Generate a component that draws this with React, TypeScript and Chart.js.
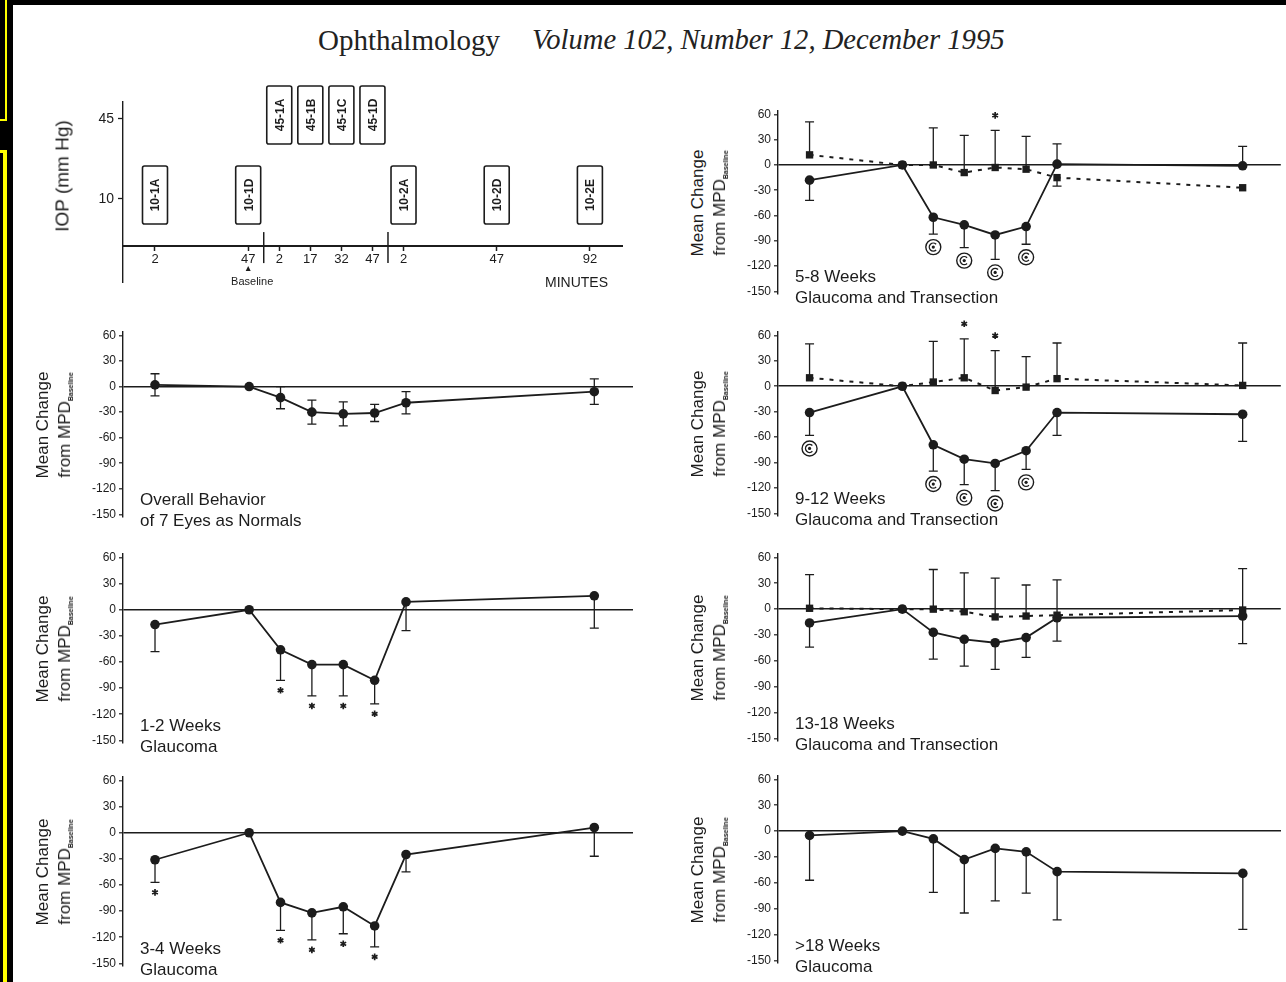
import React, { useEffect, useRef } from "react";
import { Chart, registerables } from "chart.js";

Chart.register(...registerables);

const INK = "#1c1c1c";
const SANS = "'Liberation Sans', Arial, Helvetica, sans-serif";
const SERIF = "'Liberation Serif', 'Times New Roman', serif";

// ---- time axis: each sample on one continuous clock (minutes) ----
const sampleTimes = [2, 47, 62, 77, 92, 107, 122, 212];

// ---- protocol schematic (top-left) ----
const scheduleTimes = [2, 47, 62, 77, 92, 107, 122, 167, 212];
const scheduleMinuteLabels = ["2", "47", "2", "17", "32", "47", "2", "47", "92"];
const scheduleBoxLabels = ["10-1A", "10-1D", "45-1A", "45-1B", "45-1C", "45-1D", "10-2A", "10-2D", "10-2E"];
const scheduleIOP = [10, 10, 45, 45, 45, 45, 10, 10, 10];
const scheduleDividers = [54.5, 114.5];
const iopTicks = [45, 10];
const iopAxisLevel = -10.6;
const baselineTime = 47;

const changeTicks = [60, 30, 0, -30, -60, -90, -120, -150];
const noBars = [0, 0, 0, 0, 0, 0, 0, 0];

// Overall Behavior of 7 Eyes as Normals
const normalsMean = [2, 0, -13, -30, -32, -31, -19, -6];
const normalsSD = [13, 0, 13, 14, 14, 10, 13, 15];

// 1-2 Weeks Glaucoma
const wk1to2Mean = [-17, 0, -46, -63, -63, -81, 9, 16];
const wk1to2SD = [31, 0, 35, 36, 36, 27, 33, 37];
const wk1to2Stars = [2, 3, 4, 5];

// 3-4 Weeks Glaucoma
const wk3to4Mean = [-31, 0, -80, -92, -85, -107, -25, 6];
const wk3to4SD = [26, 0, 32, 31, 31, 24, 20, 33];
const wk3to4Stars = [0, 2, 3, 4, 5];

// 5-8 Weeks Glaucoma and Transection
const wk5to8Mean = [-18, 0, -62, -71, -83, -73, 1, -1];
const wk5to8SDDown = [24, 0, 20, 27, 29, 21, 0, 0];
const wk5to8SDUp = [0, 0, 0, 0, 0, 0, 24, 23];
const wk5to8Rings = [2, 3, 4, 5];
const wk5to8FellowMean = [12, 0, 0, -9, -3, -5, -15, -27];
const wk5to8FellowSDUp = [39, 0, 44, 44, 44, 39, 0, 0];
const wk5to8FellowSDDown = [0, 0, 0, 0, 0, 0, 10, 0];
const wk5to8FellowStars = [4];

// 9-12 Weeks Glaucoma and Transection
const wk9to12Mean = [-31, 0, -69, -86, -91, -76, -31, -33];
const wk9to12SD = [27, 0, 31, 30, 32, 22, 27, 32];
const wk9to12Rings = [0, 2, 3, 4, 5];
const wk9to12FellowMean = [10, 0, 5, 10, -5, -1, 9, 1];
const wk9to12FellowSD = [40, 0, 48, 46, 47, 36, 42, 50];
const wk9to12FellowStars = [3, 4];

// 13-18 Weeks Glaucoma and Transection
const wk13to18Mean = [-16, 0, -27, -35, -39, -33, -10, -8];
const wk13to18SD = [28, 0, 31, 31, 31, 23, 27, 32];
const wk13to18FellowMean = [1, 0, 0, -3, -9, -8, -7, -1];
const wk13to18FellowSD = [39, 0, 46, 45, 45, 36, 41, 48];

// >18 Weeks Glaucoma
const wkOver18Mean = [-5, 0, -9, -33, -20, -24, -47, -49];
const wkOver18SD = [52, 0, 62, 62, 61, 48, 56, 65];

type Series = {
  mean: number[];
  up: number[];
  down: number[];
  dashed?: boolean;
  starsBelow?: number[];
  starsAbove?: number[];
  ringsBelow?: number[];
};

function drawStar(ctx: any, cx: number, cy: number) {
  const r = 3.3;
  ctx.beginPath();
  for (let k = 0; k < 3; k++) {
    const a = Math.PI / 2 + (k * Math.PI) / 3;
    ctx.moveTo(cx + r * Math.cos(a), cy + r * Math.sin(a));
    ctx.lineTo(cx - r * Math.cos(a), cy - r * Math.sin(a));
  }
  ctx.lineWidth = 1.7;
  ctx.stroke();
}

function drawRing(ctx: any, cx: number, cy: number) {
  ctx.lineWidth = 1.4;
  ctx.beginPath();
  ctx.arc(cx, cy, 7.5, 0, Math.PI * 2);
  ctx.stroke();
  ctx.beginPath();
  ctx.arc(cx, cy, 4, Math.PI * 0.25, Math.PI * 1.75);
  ctx.stroke();
  ctx.beginPath();
  ctx.arc(cx, cy, 1.6, 0, Math.PI * 2);
  ctx.fill();
}

function makeMarksPlugin(series: Series[]) {
  return {
    id: "errorMarks",
    beforeDatasetsDraw(chart: any) {
      const { ctx } = chart;
      const x = chart.scales.x;
      const y = chart.scales.y;
      ctx.save();
      ctx.strokeStyle = INK;
      ctx.lineWidth = 1.3;
      ctx.setLineDash([]);
      for (const s of series) {
        sampleTimes.forEach((t, i) => {
          const px = x.getPixelForValue(t);
          const py = y.getPixelForValue(s.mean[i]);
          const ends: number[] = [];
          if (s.up[i] > 0) ends.push(s.mean[i] + s.up[i]);
          if (s.down[i] > 0) ends.push(s.mean[i] - s.down[i]);
          for (const v of ends) {
            const pe = y.getPixelForValue(v);
            ctx.beginPath();
            ctx.moveTo(px, py);
            ctx.lineTo(px, pe);
            ctx.moveTo(px - 4.5, pe);
            ctx.lineTo(px + 4.5, pe);
            ctx.stroke();
          }
        });
      }
      ctx.restore();
    },
    afterDatasetsDraw(chart: any) {
      const { ctx } = chart;
      const x = chart.scales.x;
      const y = chart.scales.y;
      ctx.save();
      ctx.strokeStyle = INK;
      ctx.fillStyle = INK;
      ctx.setLineDash([]);
      for (const s of series) {
        (s.starsBelow || []).forEach((i) => {
          const pe = y.getPixelForValue(s.mean[i] - s.down[i]);
          drawStar(ctx, x.getPixelForValue(sampleTimes[i]), pe + 10);
        });
        (s.starsAbove || []).forEach((i) => {
          const pe = y.getPixelForValue(s.mean[i] + s.up[i]);
          drawStar(ctx, x.getPixelForValue(sampleTimes[i]), pe - 15);
        });
        (s.ringsBelow || []).forEach((i) => {
          const pe = y.getPixelForValue(s.mean[i] - s.down[i]);
          drawRing(ctx, x.getPixelForValue(sampleTimes[i]), pe + 13);
        });
      }
      ctx.restore();
    },
  };
}

type PanelProps = {
  axisX: number;
  plotRight: number;
  y60: number;
  y150: number;
  series: Series[];
  caption: [string, string];
};

function ChangePanel({ axisX, plotRight, y60, y150, series, caption }: PanelProps) {
  const ref = useRef<HTMLCanvasElement>(null);
  const yMax = 64;
  const yMin = -153;
  const ppu = (y150 - y60) / 210;
  const areaTop = y60 - (yMax - 60) * ppu;
  const areaBottom = y150 + (-150 - yMin) * ppu;
  const AXW = 60;
  const PADT = 34;
  const PADB = 34;
  const PADR = 5;
  const left = Math.round(axisX - AXW);
  const top = Math.round(areaTop - PADT);
  const width = Math.round(AXW + (plotRight - axisX) + PADR);
  const height = Math.round(areaBottom - areaTop) + PADT + PADB;

  useEffect(() => {
    const chart = new Chart(ref.current as HTMLCanvasElement, {
      type: "line",
      data: {
        datasets: series.map((s) => ({
          data: sampleTimes.map((t, i) => ({ x: t, y: s.mean[i] })),
          borderColor: INK,
          borderWidth: s.dashed ? 2 : 1.8,
          borderDash: s.dashed ? [4, 6] : [],
          pointStyle: s.dashed ? "rect" : "circle",
          pointRadius: s.dashed ? 5.2 : 4.8,
          pointBackgroundColor: INK,
          pointBorderColor: INK,
          pointBorderWidth: 0,
          tension: 0,
          fill: false,
          clip: false,
        })) as any,
      },
      options: {
        animation: false,
        responsive: false,
        maintainAspectRatio: false,
        layout: { padding: { left: 0, top: PADT, right: PADR, bottom: PADB } },
        plugins: { legend: { display: false }, tooltip: { enabled: false } },
        scales: {
          x: { type: "linear", min: -13.3, max: 230.5, display: false },
          y: {
            type: "linear",
            min: yMin,
            max: yMax,
            afterBuildTicks: (s: any) => {
              s.ticks = changeTicks.map((v) => ({ value: v }));
            },
            afterFit: (s: any) => {
              s.width = AXW;
            },
            ticks: { color: INK, font: { family: SANS, size: 12 }, padding: 3 },
            grid: {
              color: (c: any) => (c.tick && c.tick.value === 0 ? INK : "rgba(0,0,0,0)"),
              lineWidth: 1.6,
              tickColor: INK,
              tickWidth: 1.2,
              tickLength: 4,
              drawTicks: true,
            },
            border: { display: true, color: INK, width: 1.4 },
          },
        },
      } as any,
      plugins: [makeMarksPlugin(series)],
    });
    return () => chart.destroy();
  }, []);

  const midY = (y60 + y150) / 2;
  const titleStyle: any = {
    position: "absolute",
    top: midY,
    transform: "translate(-50%,-50%) rotate(-90deg)",
    whiteSpace: "nowrap",
    fontFamily: SANS,
    fontSize: 17,
    color: INK,
    lineHeight: 1,
  };
  const capStyle: any = {
    position: "absolute",
    left: axisX + 17,
    transform: "translateY(-50%)",
    whiteSpace: "nowrap",
    fontFamily: SANS,
    fontSize: 17,
    color: INK,
    lineHeight: 1,
  };
  return (
    <>
      <canvas
        ref={ref}
        width={width}
        height={height}
        style={{ position: "absolute", left, top, width, height }}
      />
      <div style={{ ...titleStyle, left: axisX - 81 }}>Mean Change</div>
      <div style={{ ...titleStyle, left: axisX - 58 }}>
        from MPD<span style={{ fontSize: 7, fontWeight: "bold", verticalAlign: "-3px" }}>Baseline</span>
      </div>
      <div style={{ ...capStyle, top: y150 - 15 }}>{caption[0]}</div>
      <div style={{ ...capStyle, top: y150 + 6 }}>{caption[1]}</div>
    </>
  );
}

const schedulePlugin = {
  id: "schedule",
  afterDraw(chart: any) {
    const { ctx } = chart;
    const x = chart.scales.x;
    const y = chart.scales.y;
    const axisPx = y.getPixelForValue(iopAxisLevel);
    ctx.save();
    ctx.strokeStyle = INK;
    ctx.fillStyle = INK;
    ctx.lineWidth = 1.5;
    for (const t of scheduleDividers) {
      const px = x.getPixelForValue(t);
      ctx.beginPath();
      ctx.moveTo(px, axisPx - 14);
      ctx.lineTo(px, axisPx + 17);
      ctx.stroke();
    }
    scheduleTimes.forEach((t, i) => {
      const cx = x.getPixelForValue(t);
      const cy = y.getPixelForValue(scheduleIOP[i]) - 4;
      const w = 25;
      const h = 58;
      ctx.lineWidth = 1.6;
      ctx.beginPath();
      if (ctx.roundRect) ctx.roundRect(cx - w / 2, cy - h / 2, w, h, 2);
      else ctx.rect(cx - w / 2, cy - h / 2, w, h);
      ctx.stroke();
      ctx.save();
      ctx.translate(cx, cy);
      ctx.rotate(-Math.PI / 2);
      ctx.font = `bold 12px ${SANS}`;
      ctx.textAlign = "center";
      ctx.textBaseline = "middle";
      ctx.fillText(scheduleBoxLabels[i], 0, 1);
      ctx.restore();
    });
    const bx = x.getPixelForValue(baselineTime);
    ctx.beginPath();
    ctx.moveTo(bx, axisPx + 20);
    ctx.lineTo(bx - 2.5, axisPx + 25);
    ctx.lineTo(bx + 2.5, axisPx + 25);
    ctx.closePath();
    ctx.fill();
    ctx.font = `11px ${SANS}`;
    ctx.textAlign = "center";
    ctx.textBaseline = "middle";
    ctx.fillText("Baseline", bx + 4, axisPx + 36);
    ctx.restore();
  },
};

function SchedulePanel() {
  const ref = useRef<HTMLCanvasElement>(null);
  const AXW = 60;
  const areaLeft = 123;
  const areaRight = 622;
  const areaTop = 102;
  const areaBottom = 282;
  const PADT = 20;
  const PADB = 40;
  const PADR = 20;
  const left = areaLeft - AXW;
  const top = areaTop - PADT;
  const width = AXW + (areaRight - areaLeft) + PADR;
  const height = areaBottom - areaTop + PADT + PADB;
  useEffect(() => {
    const chart = new Chart(ref.current as HTMLCanvasElement, {
      type: "scatter",
      data: { datasets: [] },
      options: {
        animation: false,
        responsive: false,
        maintainAspectRatio: false,
        layout: { padding: { left: 0, top: PADT, right: PADR, bottom: PADB } },
        plugins: { legend: { display: false }, tooltip: { enabled: false } },
        scales: {
          x: {
            type: "linear",
            min: -13.45,
            max: 227.5,
            position: { y: iopAxisLevel },
            afterBuildTicks: (s: any) => {
              s.ticks = scheduleTimes.map((v) => ({ value: v }));
            },
            ticks: {
              autoSkip: false,
              maxRotation: 0,
              color: INK,
              font: { family: SANS, size: 13 },
              padding: 2,
              callback: (v: any) => scheduleMinuteLabels[scheduleTimes.indexOf(v)],
            },
            grid: { drawOnChartArea: false, tickLength: 4, tickColor: INK, tickWidth: 1.5 },
            border: { display: true, color: INK, width: 2 },
          },
          y: {
            type: "linear",
            min: -26.3,
            max: 52.4,
            afterBuildTicks: (s: any) => {
              s.ticks = iopTicks.map((v) => ({ value: v }));
            },
            afterFit: (s: any) => {
              s.width = AXW;
            },
            ticks: { color: INK, font: { family: SANS, size: 14 }, padding: 4 },
            grid: { drawOnChartArea: false, tickLength: 5, tickColor: INK, tickWidth: 1.3 },
            border: { display: true, color: INK, width: 1.4 },
          },
        },
      } as any,
      plugins: [schedulePlugin],
    });
    return () => chart.destroy();
  }, []);
  return (
    <>
      <canvas ref={ref} width={width} height={height} style={{ position: "absolute", left, top, width, height }} />
      <div
        style={{
          position: "absolute",
          left: 62,
          top: 176,
          transform: "translate(-50%,-50%) rotate(-90deg)",
          whiteSpace: "nowrap",
          fontFamily: SANS,
          fontSize: 19,
          color: INK,
          lineHeight: 1,
        }}
      >
        IOP (mm Hg)
      </div>
      <div
        style={{
          position: "absolute",
          left: 545,
          top: 282,
          transform: "translateY(-50%)",
          whiteSpace: "nowrap",
          fontFamily: SANS,
          fontSize: 14,
          color: INK,
          lineHeight: 1,
        }}
      >
        MINUTES
      </div>
    </>
  );
}

export default function App() {
  const L = { axisX: 123, plotRight: 633 };
  const R = { axisX: 778, plotRight: 1281 };
  return (
    <div style={{ position: "fixed", left: 0, top: 0, width: 1286, height: 982, background: "#000", overflow: "hidden" }}>
      <div style={{ position: "absolute", left: 13, top: 5, right: 0, bottom: 0, background: "#fff" }} />
      <div style={{ position: "absolute", left: 5, top: 0, width: 2, height: 121, background: "#ffff00" }} />
      <div style={{ position: "absolute", left: 0, top: 119, width: 7, height: 2, background: "#ffff00" }} />
      <div style={{ position: "absolute", left: 0, top: 150, width: 7, height: 3, background: "#ffff00" }} />
      <div style={{ position: "absolute", left: 3, top: 150, width: 4, height: 832, background: "#ffff00" }} />

      <div style={{ position: "absolute", left: 318, top: 40, transform: "translateY(-50%)", fontFamily: SERIF, fontSize: 29, color: "#222", whiteSpace: "nowrap", lineHeight: 1 }}>
        Ophthalmology
      </div>
      <div style={{ position: "absolute", left: 532, top: 40, transform: "translateY(-50%)", fontFamily: SERIF, fontStyle: "italic", fontSize: 28.6, color: "#222", whiteSpace: "nowrap", lineHeight: 1 }}>
        Volume 102, Number 12, December 1995
      </div>

      <SchedulePanel />

      <ChangePanel {...L} y60={335} y150={514}
        series={[{ mean: normalsMean, up: normalsSD, down: normalsSD }]}
        caption={["Overall Behavior", "of 7 Eyes as Normals"]} />
      <ChangePanel {...L} y60={557} y150={740}
        series={[{ mean: wk1to2Mean, up: noBars, down: wk1to2SD, starsBelow: wk1to2Stars }]}
        caption={["1-2 Weeks", "Glaucoma"]} />
      <ChangePanel {...L} y60={780} y150={963}
        series={[{ mean: wk3to4Mean, up: noBars, down: wk3to4SD, starsBelow: wk3to4Stars }]}
        caption={["3-4 Weeks", "Glaucoma"]} />

      <ChangePanel {...R} y60={114} y150={291}
        series={[
          { mean: wk5to8FellowMean, up: wk5to8FellowSDUp, down: wk5to8FellowSDDown, dashed: true, starsAbove: wk5to8FellowStars },
          { mean: wk5to8Mean, up: wk5to8SDUp, down: wk5to8SDDown, ringsBelow: wk5to8Rings },
        ]}
        caption={["5-8 Weeks", "Glaucoma and Transection"]} />
      <ChangePanel {...R} y60={335} y150={513}
        series={[
          { mean: wk9to12FellowMean, up: wk9to12FellowSD, down: noBars, dashed: true, starsAbove: wk9to12FellowStars },
          { mean: wk9to12Mean, up: noBars, down: wk9to12SD, ringsBelow: wk9to12Rings },
        ]}
        caption={["9-12 Weeks", "Glaucoma and Transection"]} />
      <ChangePanel {...R} y60={557} y150={738}
        series={[
          { mean: wk13to18FellowMean, up: wk13to18FellowSD, down: noBars, dashed: true },
          { mean: wk13to18Mean, up: noBars, down: wk13to18SD },
        ]}
        caption={["13-18 Weeks", "Glaucoma and Transection"]} />
      <ChangePanel {...R} y60={779} y150={960}
        series={[{ mean: wkOver18Mean, up: noBars, down: wkOver18SD }]}
        caption={[">18 Weeks", "Glaucoma"]} />
    </div>
  );
}
